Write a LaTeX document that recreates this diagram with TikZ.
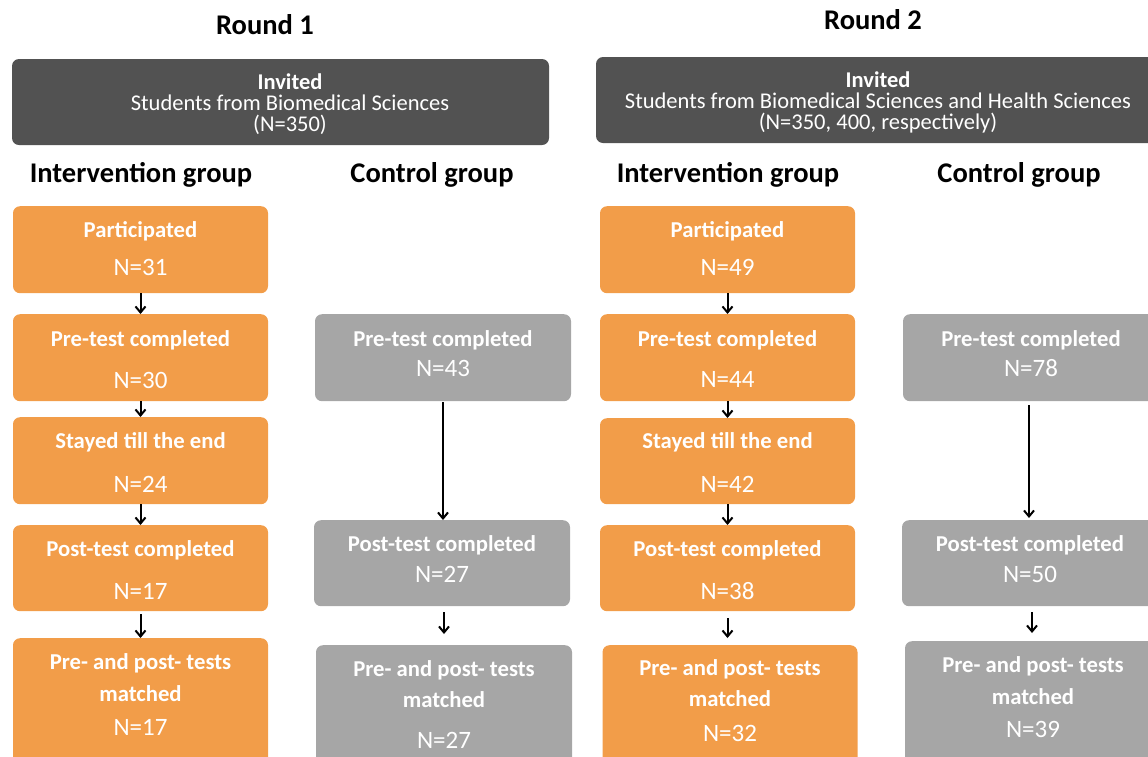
\documentclass[tikz,border=0pt]{standalone}
\usepackage{fontspec}
\setmainfont{Carlito}
\usetikzlibrary{arrows.meta}
\definecolor{org}{HTML}{F29D49}
\definecolor{gry}{HTML}{A6A6A6}
\definecolor{dgr}{HTML}{525252}
\begin{document}
\begin{tikzpicture}[x=1pt,y=-1pt,
  box/.style={rectangle, rounded corners=7pt, minimum width=255pt, anchor=north, inner sep=0pt},
  obox/.style={box, fill=org},
  gbox/.style={box, fill=gry, minimum width=256pt},
  dbox/.style={rectangle, rounded corners=7pt, fill=dgr, inner sep=0pt},
  dtxt/.style={inner sep=0pt, text=white, align=center, font=\fontsize{22.5}{21}\selectfont},
  txt/.style={inner sep=0pt, text height=0.62em, text depth=0pt, text=white, yshift=-5pt},
  ttl/.style={txt, font=\fontsize{22.7}{26}\selectfont\bfseries},
  num/.style={txt, font=\fontsize{25}{28}\selectfont},
  hdr/.style={inner sep=0pt, text height=0.62em, text depth=0pt, yshift=-6pt, font=\fontsize{28.5}{32}\selectfont\bfseries},
  arr/.style={-{Straight Barb[length=6pt,width=10pt]}, line width=2pt},
]
\useasboundingbox (0,0) rectangle (1148,756);
\clip (0,0) rectangle (1148,756);

% Titles
\node[hdr] (r1) at (265,25) {Round 1};
\node[hdr] (r2) at (873,20) {Round 2};

% Invited boxes
\node[dbox, minimum width=537pt, minimum height=86pt] (inv1) at (280.5,102) {};
\node[dtxt] (inv1t) at (290,104) {\textbf{Invited}\\Students from Biomedical Sciences\\(N=350)};
\node[dbox, minimum width=564pt, minimum height=86pt] (inv2) at (878,100) {};
\node[dtxt] (inv2t) at (878,102) {\textbf{Invited}\\Students from Biomedical Sciences and Health Sciences\\(N=350, 400, respectively)};

% Group headers
\node[hdr] (h1) at (141,173) {Intervention group};
\node[hdr] (h2) at (432,173) {Control group};
\node[hdr] (h3) at (728,173) {Intervention group};
\node[hdr] (h4) at (1019,173) {Control group};

% Round 1 intervention
\node[obox, minimum height=87pt] (a1) at (140.5,206) {};
\node[obox, minimum height=87pt] (a2) at (140.5,314) {};
\node[obox, minimum height=87pt] (a3) at (140.5,417) {};
\node[obox, minimum height=86pt] (a4) at (140.5,525) {};
\node[obox, minimum height=140pt] (a5) at (140.5,638) {};
\node[ttl] (a1t) at (140.5,229) {Participated};
\node[num] (a1n) at (140.5,267) {N=31};
\node[ttl] (a2t) at (140.5,338) {Pre-test completed};
\node[num] (a2n) at (140.5,380) {N=30};
\node[ttl] (a3t) at (140.5,440) {Stayed till the end};
\node[num] (a3n) at (140.5,484) {N=24};
\node[ttl] (a4t) at (140.5,548) {Post-test completed};
\node[num] (a4n) at (140.5,591) {N=17};
\node[ttl] (a5t) at (140.5,661) {Pre- and post- tests};
\node[ttl] (a5m) at (140.5,693) {matched};
\node[num] (a5n) at (140.5,727) {N=17};

% Round 1 control
\node[gbox, minimum height=87pt] (b2) at (443,314) {};
\node[gbox, minimum height=86pt] (b4) at (442,520) {};
\node[gbox, minimum height=140pt] (b5) at (444,645) {};
\node[ttl] (b2t) at (443,338) {Pre-test completed};
\node[num] (b2n) at (443,368) {N=43};
\node[ttl] (b4t) at (442,543) {Post-test completed};
\node[num] (b4n) at (442,574) {N=27};
\node[ttl] (b5t) at (444,668) {Pre- and post- tests};
\node[ttl] (b5m) at (444,699) {matched};
\node[num] (b5n) at (444,740) {N=27};

% Round 2 intervention
\node[obox, minimum height=87pt] (c1) at (727.5,206) {};
\node[obox, minimum height=87pt] (c2) at (727.5,314) {};
\node[obox, minimum height=86pt] (c3) at (727.5,418) {};
\node[obox, minimum height=86pt] (c4) at (727.5,525) {};
\node[obox, minimum height=140pt] (c5) at (730,645) {};
\node[ttl] (c1t) at (727.5,229) {Participated};
\node[num] (c1n) at (727.5,267) {N=49};
\node[ttl] (c2t) at (727.5,338) {Pre-test completed};
\node[num] (c2n) at (727.5,379) {N=44};
\node[ttl] (c3t) at (727.5,440) {Stayed till the end};
\node[num] (c3n) at (727.5,484) {N=42};
\node[ttl] (c4t) at (727.5,548) {Post-test completed};
\node[num] (c4n) at (727.5,591) {N=38};
\node[ttl] (c5t) at (730,667) {Pre- and post- tests};
\node[ttl] (c5m) at (730,698) {matched};
\node[num] (c5n) at (730,733) {N=32};

% Round 2 control
\node[gbox, minimum height=87pt] (d2) at (1031,314) {};
\node[gbox, minimum height=86pt] (d4) at (1030,520) {};
\node[gbox, minimum height=140pt] (d5) at (1033,641) {};
\node[ttl] (d2t) at (1031,338) {Pre-test completed};
\node[num] (d2n) at (1031,368) {N=78};
\node[ttl] (d4t) at (1030,543) {Post-test completed};
\node[num] (d4n) at (1030,574) {N=50};
\node[ttl] (d5t) at (1033,664) {Pre- and post- tests};
\node[ttl] (d5m) at (1033,696) {matched};
\node[num] (d5n) at (1033,729) {N=39};

% Arrows
\draw[arr] (a1.south) -- (a2.north);
\draw[arr] (a2.south) -- (a3.north);
\draw[arr] (a3.south) -- (a4.north);
\draw[arr, shorten <=3pt] (a4.south) -- (a5.north);
\draw[arr, shorten <=1pt] (b2.south) -- (b2.south |- b4.north);
\draw[arr, shorten <=6pt, shorten >=11pt] (b4.south -| b5.north) -- (b5.north);
\draw[arr] (c1.south) -- (c2.north);
\draw[arr] (c2.south) -- (c3.north);
\draw[arr] (c3.south) -- (c4.north);
\draw[arr, shorten <=7pt, shorten >=7pt] (c4.south) -- (c4.south |- c5.north);
\draw[arr, shorten <=4pt, shorten >=2pt] (d2.south -| 1029,0) -- (d4.north -| 1029,0);
\draw[arr, shorten <=6pt, shorten >=8pt] (d4.south -| 1032,0) -- (d5.north -| 1032,0);
\end{tikzpicture}
\end{document}
